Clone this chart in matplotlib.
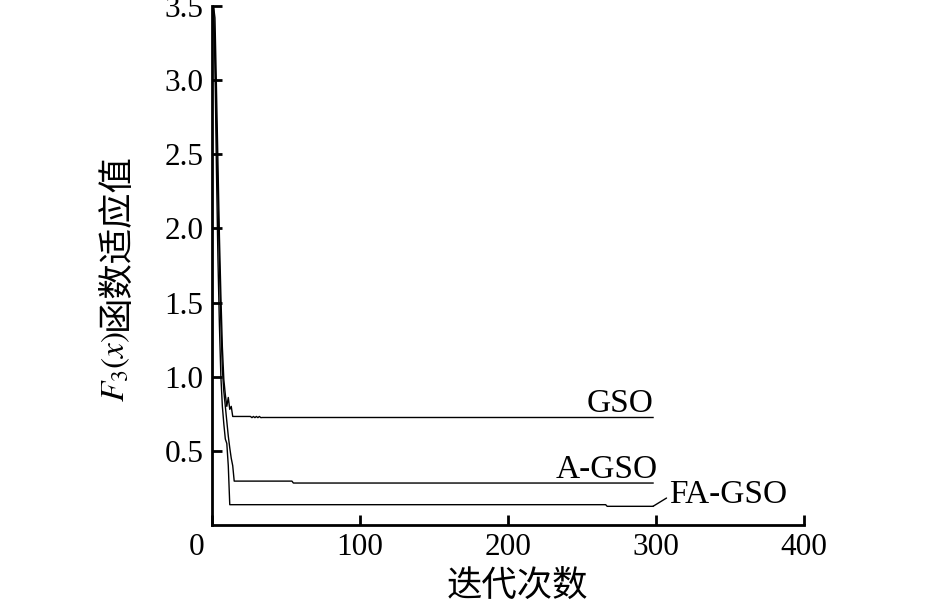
import matplotlib
matplotlib.use("Agg")
import matplotlib.pyplot as plt
import matplotlib.transforms as mtransforms

plt.rcParams['font.family'] = ['Liberation Serif', 'Noto Sans CJK SC']
plt.rcParams['mathtext.fontset'] = 'stix'

# ---- data ----
gso_iter = [1, 2, 3, 4, 5, 6, 7, 8, 9, 10, 11, 12, 13, 14,
            26, 27, 28, 29, 30, 31, 32, 33, 34, 298]
gso_val = [3.50, 3.42, 2.95, 2.45, 1.95, 1.55, 1.20, 0.98, 0.88, 0.80, 0.86, 0.78, 0.80, 0.732,
           0.732, 0.724, 0.732, 0.724, 0.732, 0.724, 0.732, 0.724, 0.725, 0.725]

agso_iter = [1, 2, 3, 4, 5, 6, 7, 8, 9, 10, 11, 12, 13, 14, 15, 54, 55, 298]
agso_val = [3.48, 3.20, 2.70, 2.20, 1.75, 1.35, 1.05, 0.90, 0.80, 0.70, 0.60, 0.52, 0.45, 0.40,
            0.296, 0.296, 0.283, 0.283]

fagso_iter = [1, 2, 3, 4, 5, 6, 7, 8, 9, 10, 11, 12, 266, 267, 298]
fagso_val = [3.50, 3.10, 2.40, 1.80, 1.35, 1.00, 0.80, 0.68, 0.58, 0.55, 0.40, 0.137,
             0.137, 0.126, 0.126]

x_ticks = [0, 100, 200, 300, 400]
y_ticks = [0.5, 1.0, 1.5, 2.0, 2.5, 3.0, 3.5]
y_tick_labels = ['0.5', '1.0', '1.5', '2.0', '2.5', '3.0', '3.5']

fig = plt.figure(figsize=(9.44, 6.06), dpi=100)
ax = fig.add_axes([212 / 944, 1 - 525 / 606, (804 - 212) / 944, (525 - 6) / 606])

lw = 1.0
ax.plot(gso_iter, gso_val, color='black', lw=lw)
ax.plot(agso_iter, agso_val, color='black', lw=lw)
ax.plot(fagso_iter, fagso_val, color='black', lw=lw)

ax.set_xlim(0, 400)
ax.set_ylim(0, 3.5)
ax.set_xticks(x_ticks)
ax.set_xticklabels([str(v) for v in x_ticks])
ax.set_yticks(y_ticks)
ax.set_yticklabels(y_tick_labels)

for s in ['top', 'right']:
    ax.spines[s].set_visible(False)
for s in ['left', 'bottom']:
    ax.spines[s].set_linewidth(2.0)

ax.tick_params(direction='in', length=7, width=2.0, labelsize=22.5, pad=6)

# the "0" x label sits a bit to the left in the reference
lbl0 = ax.get_xticklabels()[0]
lbl0.set_transform(lbl0.get_transform() + mtransforms.ScaledTranslation(-15 / 100, 0, fig.dpi_scale_trans))

# annotations
ax.text(298, 0.765, 'GSO', ha='right', va='baseline', fontsize=24)
ax.text(301, 0.316, 'A-GSO', ha='right', va='baseline', fontsize=24)
ax.annotate('FA-GSO', xy=(298, 0.126), xytext=(309, 0.148), ha='left', va='baseline',
            fontsize=24, annotation_clip=False,
            arrowprops=dict(arrowstyle='-', color='black', lw=1.0,
                            shrinkA=0, shrinkB=0, relpos=(0, 0.45)))

# y label built from pieces (math + Chinese)
ax.text(-0.162, (525 - 402) / 519, r'$F_3(x)$', rotation=90, ha='center', va='bottom',
        fontsize=24, transform=ax.transAxes)
ax.text(-0.162, (525 - 330) / 519, '函数适应值', rotation=90, ha='center', va='bottom',
        fontsize=25.5, transform=ax.transAxes, family=['Noto Sans CJK SC'])

# x label
ax.text((517 - 212) / 592, (525 - 586) / 519, '迭代次数', ha='center', va='center',
        fontsize=25.5, transform=ax.transAxes, family=['Noto Sans CJK SC'])

fig.savefig('out.png', dpi=100)
